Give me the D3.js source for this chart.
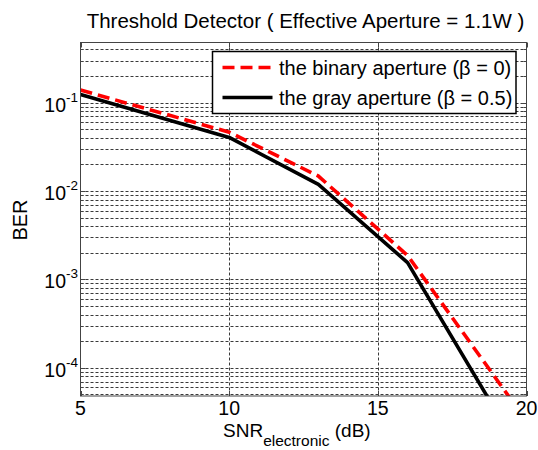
<!DOCTYPE html>
<html>
<head>
<meta charset="utf-8">
<script src="https://cdn.jsdelivr.net/npm/d3@7"></script>
<style>
  body { margin: 0; background: #fff; }
  text { font-family: "Liberation Sans", Arial, Helvetica, sans-serif; fill: #000; }
</style>
</head>
<body>
<div id="chart"></div>
<script>
// data
var snr = [5, 10, 13, 16, 20];
var berBinary = [0.139, 0.0464, 0.0148, 1.87e-3, 2.5e-5];
var berGray = [0.124, 0.0405, 0.0119, 1.55e-3, 8.5e-6];
var xTicks = [5, 10, 15, 20];
var yDecades = [-4, -3, -2, -1];
var legendLabels = ["the binary aperture (\u03b2 = 0)", "the gray aperture (\u03b2 = 0.5)"];

// svg size
var svgWidth = 538;
var svgHeight = 450;

// plot box
var plot = { left: 80.5, right: 526.5, top: 42.5, bottom: 396 };

var svg = d3.select("#chart")
  .append("svg")
  .attr("width", svgWidth)
  .attr("height", svgHeight);

// scales
var x = d3.scaleLinear().domain([5, 20]).range([plot.left, plot.right]);
var y = d3.scaleLog().domain([4.8e-5, 0.48]).range([plot.bottom, plot.top]);

// clip path for curves
svg.append("clipPath").attr("id", "clip")
  .append("rect")
  .attr("x", plot.left).attr("y", plot.top)
  .attr("width", plot.right - plot.left)
  .attr("height", plot.bottom - plot.top);

// minor and major y grid values inside the domain
var yGrid = [];
for (var k = -5; k <= 0; k++) {
  for (var m = 1; m <= 9; m++) {
    var v = m * Math.pow(10, k);
    if (v > y.domain()[0] && v < y.domain()[1]) yGrid.push(v);
  }
}

var gridColor = "#3a3a3a";

// horizontal grid
svg.append("g")
  .selectAll("line")
  .data(yGrid)
  .enter()
  .append("line")
  .attr("x1", plot.left).attr("x2", plot.right)
  .attr("y1", d => Math.round(y(d)) + 0.5)
  .attr("y2", d => Math.round(y(d)) + 0.5)
  .attr("stroke", gridColor)
  .attr("stroke-width", 1)
  .attr("stroke-dasharray", "3,2");

// vertical grid
svg.append("g")
  .selectAll("line")
  .data(xTicks.slice(1, -1))
  .enter()
  .append("line")
  .attr("y1", plot.top).attr("y2", plot.bottom)
  .attr("x1", d => Math.round(x(d)) + 0.5)
  .attr("x2", d => Math.round(x(d)) + 0.5)
  .attr("stroke", gridColor)
  .attr("stroke-width", 1)
  .attr("stroke-dasharray", "3,2");

// inside ticks on all sides (MATLAB style)
var axisColor = "#444";
var tickG = svg.append("g").attr("stroke", axisColor).attr("stroke-width", 1);
yGrid.forEach(function(v) {
  var isMajor = Math.abs(Math.log10(v) - Math.round(Math.log10(v))) < 1e-9;
  var len = isMajor ? 5 : 3;
  var yy = Math.round(y(v)) + 0.5;
  tickG.append("line").attr("x1", plot.left).attr("x2", plot.left + len).attr("y1", yy).attr("y2", yy);
  tickG.append("line").attr("x1", plot.right - len).attr("x2", plot.right).attr("y1", yy).attr("y2", yy);
});
xTicks.forEach(function(v) {
  var xx = Math.round(x(v)) + 0.5;
  tickG.append("line").attr("x1", xx).attr("x2", xx).attr("y1", plot.bottom).attr("y2", plot.bottom - 5);
  tickG.append("line").attr("x1", xx).attr("x2", xx).attr("y1", plot.top).attr("y2", plot.top + 5);
});

// curves
var line = d3.line()
  .x((d, i) => x(snr[i]))
  .y(d => y(d));

var curves = svg.append("g").attr("clip-path", "url(#clip)");

curves.append("path")
  .attr("d", line(berGray))
  .attr("fill", "none")
  .attr("stroke", "#000")
  .attr("stroke-width", 3.6)
  .attr("stroke-linejoin", "round");

curves.append("path")
  .attr("d", line(berBinary))
  .attr("fill", "none")
  .attr("stroke", "#ff0000")
  .attr("stroke-width", 3.6)
  .attr("stroke-dasharray", "12,6");

// axes box
svg.append("rect")
  .attr("x", plot.left).attr("y", plot.top)
  .attr("width", plot.right - plot.left)
  .attr("height", plot.bottom - plot.top)
  .attr("fill", "none")
  .attr("stroke", axisColor)
  .attr("stroke-width", 1);

// x tick labels
svg.append("g")
  .selectAll("text")
  .data(xTicks)
  .enter()
  .append("text")
  .attr("x", d => x(d))
  .attr("y", 415)
  .attr("text-anchor", "middle")
  .attr("font-size", "19.5px")
  .text(d => d);

// y tick labels: 10 with superscript exponent
var yLab = svg.append("g");
yDecades.forEach(function(e) {
  var yy = y(Math.pow(10, e));
  var t = yLab.append("text")
    .attr("x", 78)
    .attr("y", yy + 9)
    .attr("text-anchor", "end")
    .attr("font-size", "19.5px");
  t.append("tspan").text("10");
  t.append("tspan")
    .attr("font-size", "13.5px")
    .attr("dy", -10)
    .text("-" + Math.abs(e));
});

// title
svg.append("text")
  .attr("x", (plot.left + plot.right) / 2 + 2)
  .attr("y", 28)
  .attr("text-anchor", "middle")
  .attr("font-size", "20.5px")
  .text("Threshold Detector ( Effective Aperture = 1.1W )");

// x axis label
var xl = svg.append("text")
  .attr("x", 223)
  .attr("y", 437)
  .attr("font-size", "19px");
xl.append("tspan").text("SNR");
xl.append("tspan").attr("font-size", "15.5px").attr("dy", 8.5).text("electronic");
xl.append("tspan").attr("dy", -8.5).text(" (dB)");

// y axis label
svg.append("text")
  .attr("transform", "translate(27," + 220 + ") rotate(-90)")
  .attr("text-anchor", "middle")
  .attr("font-size", "20px")
  .text("BER");

// legend
var legend = { x: 212.5, y: 51.5, w: 303.5, h: 62 };
var lg = svg.append("g");
lg.append("rect")
  .attr("x", legend.x).attr("y", legend.y)
  .attr("width", legend.w).attr("height", legend.h)
  .attr("fill", "#fff")
  .attr("stroke", "#000")
  .attr("stroke-width", 1.5);

var legendStyles = [
  { color: "#ff0000", dash: "12,6" },
  { color: "#000", dash: null }
];
legendLabels.forEach(function(lbl, i) {
  var ly = legend.y + 16 + i * 30;
  lg.append("line")
    .attr("x1", 222.5).attr("x2", 272.5)
    .attr("y1", ly).attr("y2", ly)
    .attr("stroke", legendStyles[i].color)
    .attr("stroke-width", 3.6)
    .attr("stroke-dasharray", legendStyles[i].dash);
  lg.append("text")
    .attr("x", 279)
    .attr("y", ly + 7)
    .attr("font-size", "20px")
    .text(lbl);
});
</script>
</body>
</html>
